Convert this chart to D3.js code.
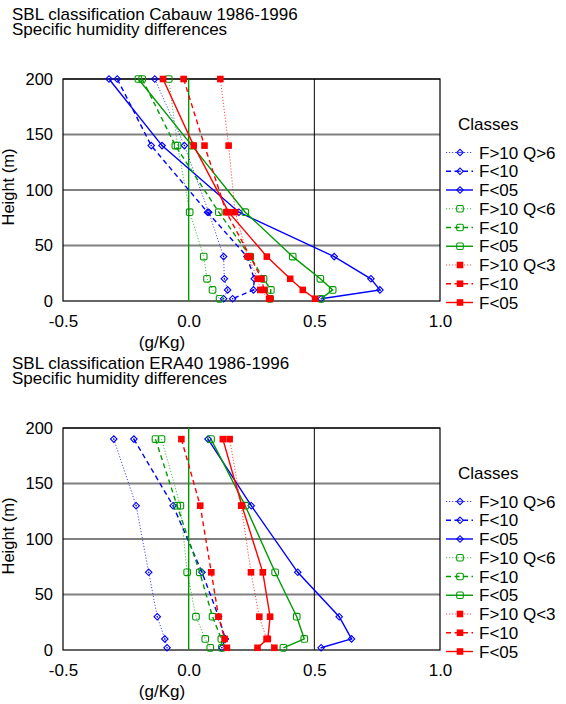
<!DOCTYPE html>
<html><head><meta charset="utf-8">
<script src="https://cdn.jsdelivr.net/npm/d3@7"></script>
<style>
body{margin:0;background:#fff;}
svg text{font-family:"Liberation Sans",Arial,sans-serif;fill:#000;}
</style></head>
<body><svg id="c" width="566" height="704"></svg>
<script>
// ---------- data ----------
const legendLabels = ["F>10 Q>6","F<10","F<05","F>10 Q<6","F<10","F<05","F>10 Q<3","F<10","F<05"];
const xTicks = [-0.5, 0.0, 0.5, 1.0];
const yTicks = [0, 50, 100, 150, 200];

const cabauwHeights = [200,140,80,40,20,10,2];
const cabBlueF10Q6  = [-0.135,-0.017,0.080,0.139,0.142,0.155,0.139];
const cabBlueF10    = [-0.284,-0.149,0.075,0.232,0.261,0.258,0.175];
const cabBlueF05    = [-0.317,-0.106,0.200,0.579,0.725,0.761,0.527];
const cabGreenF10Q6 = [-0.079,-0.044,0.004,0.060,0.073,0.095,0.123];
const cabGreenF10   = [-0.185,-0.053,0.120,0.245,0.298,0.327,0.324];
const cabGreenF05   = [-0.200,0.013,0.225,0.414,0.524,0.573,0.527];
const cabRedF10Q3   = [0.126,0.159,0.185,0.235,0.275,0.285,0.320];
const cabRedF10     = [-0.020,0.063,0.150,0.245,0.290,0.300,0.325];
const cabRedF05     = [-0.102,0.020,0.159,0.311,0.404,0.454,0.503];

const eraHeights    = [190,130,70,30,10,2];
const eraBlueF10Q6  = [-0.298,-0.209,-0.159,-0.125,-0.095,-0.086];
const eraBlueF10    = [-0.218,-0.062,0.053,0.119,0.146,0.132];
const eraBlueF05    = [0.077,0.249,0.434,0.599,0.648,0.527];
const eraGreenF10Q6 = [-0.108,-0.033,-0.006,0.029,0.066,0.086];
const eraGreenF10   = [-0.132,-0.046,0.044,0.095,0.130,0.132];
const eraGreenF05   = [0.089,0.225,0.344,0.430,0.460,0.377];
const eraRedF10Q3   = [0.163,0.209,0.248,0.281,0.310,0.341];
const eraRedF10     = [-0.029,0.046,0.090,0.119,0.143,0.152];
const eraRedF05     = [0.136,0.212,0.295,0.324,0.315,0.274];

// ---------- styles ----------
const BLUE="#0000ff", GREEN="#009a00", RED="#ff0000";
const FONT="Liberation Sans, Arial, sans-serif";
const styles = [
  {c:BLUE,  dash:"1.2,1.8", w:1,   m:"diamond", op:0.7},
  {c:BLUE,  dash:"5,3.5",   w:1.4, m:"diamond", op:1},
  {c:BLUE,  dash:null,      w:1.4, m:"diamond", op:1},
  {c:GREEN, dash:"1.2,1.8", w:1,   m:"square",  op:0.7},
  {c:GREEN, dash:"5,3.5",   w:1.4, m:"square",  op:1},
  {c:GREEN, dash:null,      w:1.4, m:"square",  op:1},
  {c:RED,   dash:"1.2,1.8", w:1,   m:"fsquare", op:0.7},
  {c:RED,   dash:"5,3.5",   w:1.4, m:"fsquare", op:1},
  {c:RED,   dash:null,      w:1.4, m:"fsquare", op:1}
];

const svg = d3.select("#c");

function marker(g, x, y, st){
  if(st.m==="diamond"){
    g.append("rect").attr("x",-2.3).attr("y",-2.3).attr("width",4.6).attr("height",4.6)
      .attr("transform",`translate(${x},${y}) rotate(45)`)
      .attr("fill","none").attr("stroke",st.c).attr("stroke-width",1.1);
    g.append("circle").attr("cx",x).attr("cy",y).attr("r",0.8).attr("fill",st.c);
  } else if(st.m==="square"){
    g.append("rect").attr("x",x-3.3).attr("y",y-3.3).attr("width",6.6).attr("height",6.6)
      .attr("rx",1.5).attr("fill","none").attr("stroke",st.c).attr("stroke-width",1.1);
  } else {
    g.append("rect").attr("x",x-3.3).attr("y",y-3.3).attr("width",6.6).attr("height",6.6)
      .attr("fill",st.c);
  }
}

const fmtX = d => d.toFixed(1);

function panel(oy, title1, heights, series){
  const left=63, right=440, top=79+oy, bottom=301+oy;
  const x = d3.scaleLinear().domain([-0.5,1.0]).range([left,right]);
  const y = d3.scaleLinear().domain([0,200]).range([bottom,top]);
  const g = svg.append("g");

  const t = g.append("text").attr("x",12).attr("y",20+oy).attr("font-size",17);
  t.append("tspan").attr("x",12).attr("y",20+oy).text(title1);
  t.append("tspan").attr("x",12).attr("y",35+oy).text("Specific humidity differences");

  // grid
  g.selectAll("line.h").data([50,100,150,200]).enter().append("line")
    .attr("x1",left).attr("x2",right).attr("y1",d=>y(d)).attr("y2",d=>y(d))
    .attr("stroke","#808080").attr("stroke-width",2);
  g.append("line").attr("x1",x(0.5)).attr("x2",x(0.5)).attr("y1",top).attr("y2",bottom)
    .attr("stroke","#000").attr("stroke-width",1);
  g.append("rect").attr("x",left).attr("y",top).attr("width",right-left).attr("height",bottom-top)
    .attr("fill","none").attr("stroke","#000").attr("stroke-width",1.2);
  g.append("line").attr("x1",x(0)).attr("x2",x(0)).attr("y1",top).attr("y2",bottom)
    .attr("stroke",GREEN).attr("stroke-width",1.4);

  // axes
  const ya = g.append("g").attr("transform",`translate(${left-10},0)`)
    .call(d3.axisLeft(y).tickValues(yTicks).tickSize(0).tickPadding(0).tickFormat(d3.format("d")));
  ya.select(".domain").remove();
  ya.selectAll("text").attr("font-size",16.5).attr("font-family",FONT).attr("fill","#000");
  const xa = g.append("g").attr("transform",`translate(0,${bottom})`)
    .call(d3.axisBottom(x).tickValues(xTicks).tickSize(0).tickPadding(14).tickFormat(fmtX));
  xa.select(".domain").remove();
  xa.selectAll("text").attr("font-size",17).attr("font-family",FONT).attr("fill","#000");

  g.append("text").attr("x",162).attr("y",bottom+47).attr("font-size",17)
    .attr("text-anchor","middle").text("(g/Kg)");
  g.append("text").attr("transform",`translate(14,${(top+bottom)/2-3}) rotate(-90)`)
    .attr("font-size",16.5).attr("text-anchor","middle").text("Height (m)");

  // series
  const line = d3.line().x(d=>x(d[0])).y(d=>y(d[1]));
  series.forEach((vals,i)=>{
    const st = styles[i];
    const pts = vals.map((v,k)=>[v,heights[k]]);
    g.append("path").attr("d",line(pts)).attr("fill","none").attr("stroke",st.c)
      .attr("stroke-width",st.w).attr("stroke-dasharray",st.dash).attr("opacity",st.op);
    pts.forEach(p=>marker(g,x(p[0]),y(p[1]),st));
  });

  // legend
  const lg = svg.append("g");
  lg.append("text").attr("x",458).attr("y",130+oy).attr("font-size",17).text("Classes");
  legendLabels.forEach((lab,i)=>{
    const st = styles[i];
    const yy = 152.5+oy+i*18.75;
    lg.append("line").attr("x1",446).attr("x2",473).attr("y1",yy).attr("y2",yy)
      .attr("stroke",st.c).attr("stroke-width",st.w).attr("stroke-dasharray",st.dash).attr("opacity",st.op);
    marker(lg,460,yy,st);
    lg.append("text").attr("x",479).attr("y",yy+6).attr("font-size",17).text(lab);
  });
}

panel(0,"SBL classification Cabauw 1986-1996",cabauwHeights,
  [cabBlueF10Q6,cabBlueF10,cabBlueF05,cabGreenF10Q6,cabGreenF10,cabGreenF05,cabRedF10Q3,cabRedF10,cabRedF05]);
panel(349,"SBL classification ERA40 1986-1996",eraHeights,
  [eraBlueF10Q6,eraBlueF10,eraBlueF05,eraGreenF10Q6,eraGreenF10,eraGreenF05,eraRedF10Q3,eraRedF10,eraRedF05]);
</script></body></html>
